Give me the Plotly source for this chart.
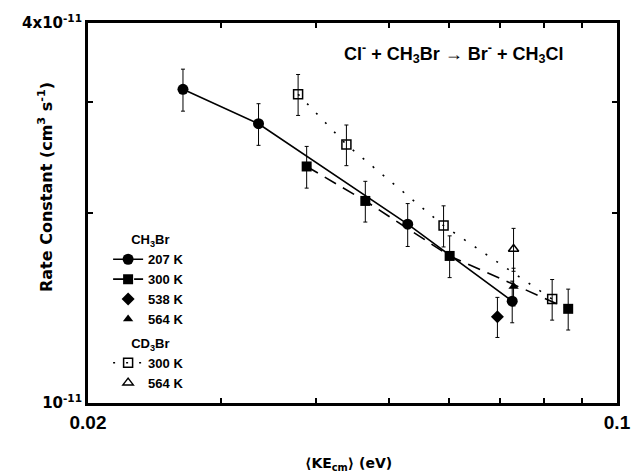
import plotly.graph_objects as go

# CH3Br 207 K (filled circles, solid line)
c207_x = [0.0267, 0.0336, 0.0529, 0.0727]
c207_y = [3.14e-11, 2.77e-11, 1.92e-11, 1.45e-11]
c207_err = [0.24e-11, 0.21e-11, 0.15e-11, 0.11e-11]

# CH3Br 300 K (filled squares, dashed line)
c300_x = [0.0389, 0.0465, 0.0601, 0.0862]
c300_y = [2.37e-11, 2.09e-11, 1.71e-11, 1.41e-11]
c300_err = [0.18e-11, 0.155e-11, 0.13e-11, 0.105e-11]

# CH3Br 538 K (filled diamond)
c538_x = [0.0695]
c538_y = [1.37e-11]
c538_err = [0.10e-11]

# CH3Br 564 K (filled triangle)
c564_x = [0.0730]
c564_y = [1.53e-11]
c564_err = [0.105e-11]

# CD3Br 300 K (open squares, dotted line)
d300_x = [0.0379, 0.0439, 0.0590, 0.0821]
d300_y = [3.085e-11, 2.567e-11, 1.91e-11, 1.461e-11]
d300_err = [0.23e-11, 0.19e-11, 0.143e-11, 0.108e-11]

# CD3Br 564 K (open triangle)
d564_x = [0.0730]
d564_y = [1.754e-11]
d564_err = [0.137e-11]

x_ticks = [0.02, 0.03, 0.04, 0.05, 0.06, 0.07, 0.08, 0.09, 0.1]
x_ticktext = ["0.02", "", "", "", "", "", "", "", "0.1"]
y_ticks = [1e-11, 2e-11, 3e-11, 4e-11]
y_ticktext = ["10<sup>-11</sup>", "", "", "4x10<sup>-11</sup>"]

ARIAL = "Liberation Sans, Arial, sans-serif"
WIDE = "DejaVu Sans, Liberation Sans, sans-serif"

def err(vals):
    return dict(type="data", array=vals, visible=True, color="black",
                thickness=1, width=2)

def bfont(size, fam=ARIAL):
    return dict(family=fam, size=size, color="black", weight="bold")

NB = "\u00a0" * 5

fig = go.Figure()
fig.add_trace(go.Scatter(
    x=c207_x, y=c207_y, error_y=err(c207_err), mode="lines+markers",
    name="207 K", legendgroup="ch3br",
    legendgrouptitle=dict(text=NB + "CH<sub>3</sub>Br", font=bfont(13)),
    line=dict(color="black", width=1.6),
    marker=dict(symbol="circle", size=11, color="black")))
fig.add_trace(go.Scatter(
    x=c300_x, y=c300_y, error_y=err(c300_err), mode="lines+markers",
    name="300 K", legendgroup="ch3br",
    line=dict(color="black", width=1.6, dash="13px,8px"),
    marker=dict(symbol="square", size=10, color="black")))
fig.add_trace(go.Scatter(
    x=c538_x, y=c538_y, error_y=err(c538_err), mode="markers",
    name="538 K", legendgroup="ch3br",
    marker=dict(symbol="diamond", size=10, color="black")))
fig.add_trace(go.Scatter(
    x=c564_x, y=c564_y, error_y=err(c564_err), mode="markers",
    name="564 K", legendgroup="ch3br",
    marker=dict(symbol="triangle-up", size=9, color="black")))
fig.add_trace(go.Scatter(
    x=d300_x, y=d300_y, error_y=err(d300_err), mode="lines+markers",
    name="300 K", legendgroup="cd3br",
    legendgrouptitle=dict(text=NB + "CD<sub>3</sub>Br", font=bfont(13)),
    line=dict(color="black", width=1.6, dash="2px,11px"),
    marker=dict(symbol="square-open", size=9, color="black",
                line=dict(width=1.5, color="black"))))
fig.add_trace(go.Scatter(
    x=d564_x, y=d564_y, error_y=err(d564_err), mode="markers",
    name="564 K", legendgroup="cd3br",
    marker=dict(symbol="triangle-up-open", size=9, color="black",
                line=dict(width=1.5, color="black"))))

axis_common = dict(type="log", showline=True, linewidth=3, linecolor="black",
                   mirror="ticks", ticks="inside", ticklen=5, tickwidth=1.5,
                   tickcolor="black", showgrid=False, zeroline=False)

fig.update_xaxes(range=[-1.69897, -1.0], tickvals=x_ticks, ticktext=x_ticktext,
                 tickfont=bfont(19), **axis_common)
fig.update_yaxes(range=[-11.0, -10.39794], tickvals=y_ticks, ticktext=y_ticktext,
                 tickfont=bfont(15, WIDE), **axis_common)

# plot area in pixels: x 88..617, y 23..403
def px(xp):
    return (xp - 88) / 529.0

def py(yp):
    return (403 - yp) / 380.0

fig.update_layout(
    width=631, height=475,
    margin=dict(l=88, r=14, t=23, b=72, autoexpand=False),
    paper_bgcolor="white", plot_bgcolor="white",
    font=bfont(13),
    showlegend=True,
    legend=dict(x=0.038, y=0.47, xanchor="left", yanchor="top",
                bgcolor="rgba(0,0,0,0)", traceorder="grouped",
                tracegroupgap=4, itemwidth=30, font=bfont(13)),
    annotations=[
        dict(text="Cl<sup>-</sup> + CH<sub>3</sub>Br \u2192 Br<sup>-</sup> + CH<sub>3</sub>Cl",
             x=px(454), y=py(53), xref="paper", yref="paper", showarrow=False,
             xanchor="center", yanchor="middle", font=bfont(18)),
        dict(text="Rate Constant (cm<sup>3</sup> s<sup>-1</sup>)",
             x=px(45), y=py(187), xref="paper", yref="paper", showarrow=False,
             textangle=-90, xanchor="center", yanchor="middle",
             font=bfont(16, WIDE)),
        dict(text="\u27e8KE<sub>cm</sub>\u27e9 (eV)",
             x=px(348), y=py(464), xref="paper", yref="paper", showarrow=False,
             xanchor="center", yanchor="middle", font=bfont(14, WIDE)),
    ],
)

fig.write_html("out.html", config={"displayModeBar": False},
               post_script="document.body.style.margin='0';document.body.style.padding='0';")
